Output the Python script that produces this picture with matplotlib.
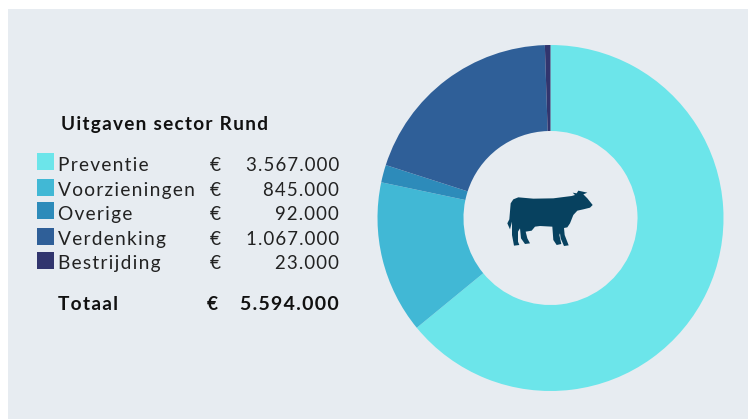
import matplotlib
matplotlib.use("Agg")
import matplotlib.pyplot as plt
from matplotlib.patches import Polygon, Rectangle

W, H = 748, 419

categories = ["Preventie", "Voorzieningen", "Overige", "Verdenking", "Bestrijding"]
value_labels = ["3.567.000", "845.000", "92.000", "1.067.000", "23.000"]
total_label = "5.594.000"
# slice sizes as drawn in the picture, in percent (not quite the printed amounts)
slice_shares = [64.06, 14.25, 1.64, 19.53, 0.52]
colors = ["#6CE5EA", "#41B8D5", "#2D8BBA", "#2F5F98", "#31356E"]

swatch_tops = [153, 179, 202, 228, 252]
baselines = [171, 196, 220, 245, 269]

# cow icon outline, in pixels of the figure
cow = [(x / 3 + 490, y / 3 + 170) for x, y in [
    (308, 105), (300, 113), (280, 118), (262, 122), (250, 135), (240, 160), (232, 172),
    (222, 174), (224, 195), (236, 226), (222, 228), (212, 205), (210, 190), (208, 195),
    (214, 222), (200, 225), (190, 210), (187, 170), (150, 168), (135, 170), (125, 182),
    (107, 185), (112, 205), (120, 220), (105, 222), (93, 205), (90, 175), (84, 185),
    (84, 215), (88, 225), (72, 227), (66, 195), (66, 155), (60, 178), (52, 160),
    (58, 148), (62, 100), (70, 88), (85, 82), (130, 86), (190, 85), (245, 78),
    (255, 75), (248, 68), (260, 70), (265, 62), (292, 68), (280, 73), (292, 85),
]]

FAMILY = ["Lato", "DejaVu Sans"]


def spaced(s):
    return "\u200a".join(s)


fig = plt.figure(figsize=(W / 100, H / 100), dpi=100, facecolor="white")

# overlay in pixel coordinates for panel, swatches, text and icon
bg = fig.add_axes([0, 0, 1, 1])
bg.set_xlim(0, W)
bg.set_ylim(H, 0)
bg.axis("off")
bg.add_patch(Rectangle((8, 9), W - 8, H - 9, color="#E7ECF1", lw=0))

cx, cy, r = 550.5, 218, 173
ax = fig.add_axes([(cx - r) / W, 1 - (cy + r) / H, 2 * r / W, 2 * r / H])
ax.pie(slice_shares, colors=colors, startangle=90, counterclock=False, radius=1,
       wedgeprops=dict(width=0.497, linewidth=0))
ax.set_xlim(-1, 1)
ax.set_ylim(-1, 1)
ax.axis("off")

fg = fig.add_axes([0, 0, 1, 1])
fg.set_xlim(0, W)
fg.set_ylim(H, 0)
fg.axis("off")
fg.add_patch(Polygon(cow, closed=True, color="#07415F", lw=0))

TXT = "#222222"
fs = 13.8
fg.text(61, 130, spaced("Uitgaven sector Rund"), fontsize=13.7, fontweight="bold",
        family=FAMILY, color="#111111", va="baseline")
for i, name in enumerate(categories):
    fg.add_patch(Rectangle((37, swatch_tops[i]), 17, 17, color=colors[i], lw=0))
    fg.text(58, baselines[i], spaced(name), fontsize=fs, family=FAMILY, color=TXT, va="baseline")
    fg.text(210, baselines[i], "€", fontsize=fs, family=FAMILY, color=TXT, va="baseline")
    fg.text(339, baselines[i], spaced(value_labels[i]), fontsize=13.4, family=FAMILY, color=TXT,
            ha="right", va="baseline")
fg.text(58, 310, spaced("Totaal"), fontsize=fs, fontweight="bold", family=FAMILY,
        color="#111111", va="baseline")
fg.text(207, 310, "€", fontsize=fs, fontweight="bold", family=FAMILY, color="#111111", va="baseline")
fg.text(339, 310, spaced(total_label), fontsize=14, fontweight="bold", family=FAMILY,
        color="#111111", ha="right", va="baseline")

fig.savefig("out.png", dpi=100)
